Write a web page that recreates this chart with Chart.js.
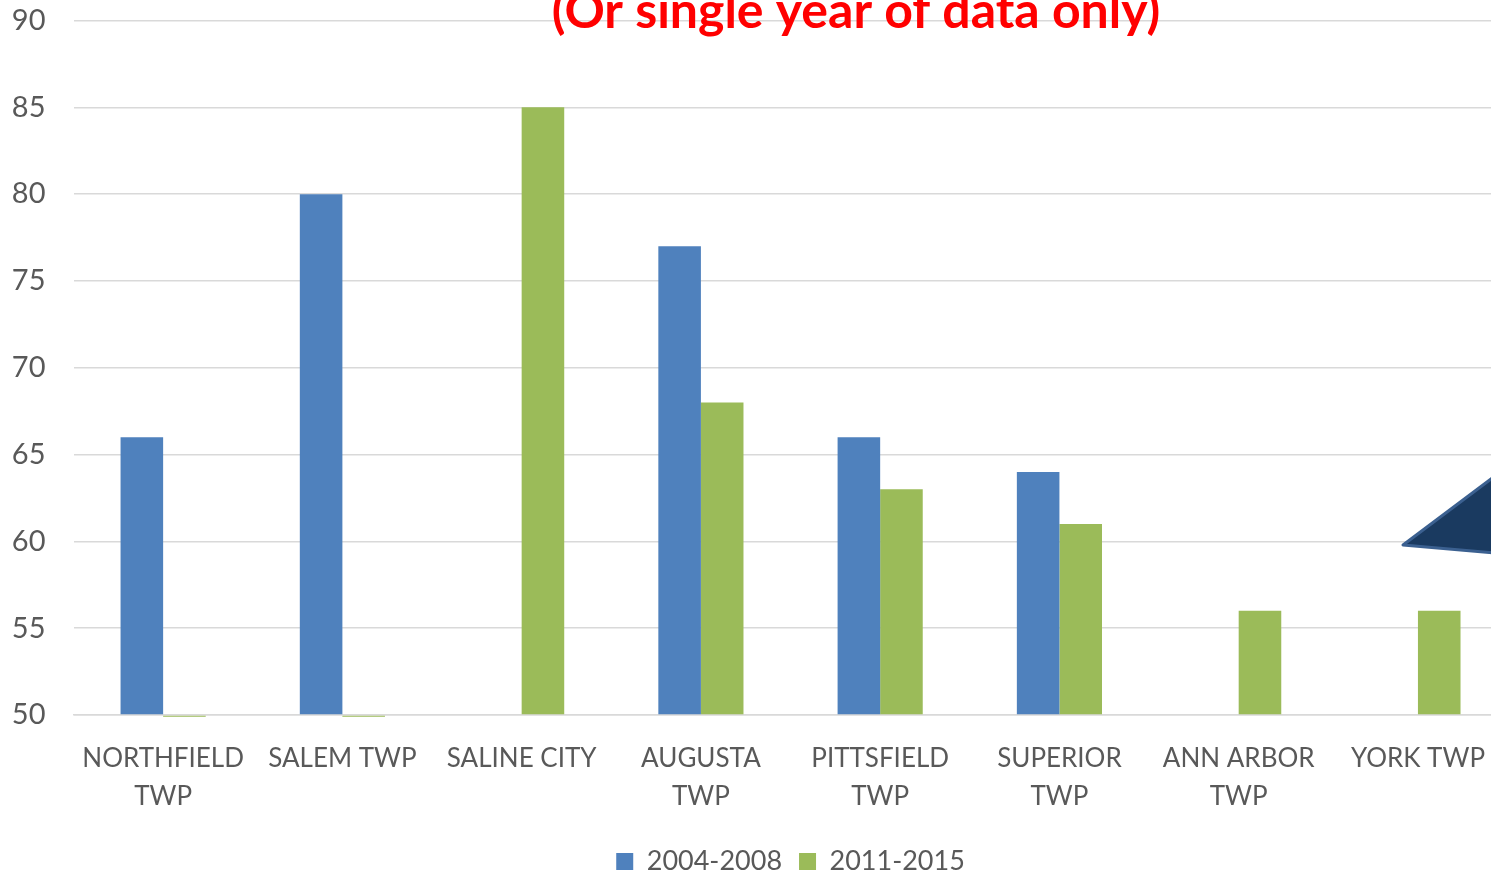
<!DOCTYPE html>
<html><head><meta charset="utf-8">
<script src="https://cdn.jsdelivr.net/npm/chart.js@4/dist/chart.umd.min.js"></script>
<style>
html,body{margin:0;padding:0;background:#fff;overflow:hidden;}
#wrap{width:1510px;height:873px;position:relative;}
</style></head><body>
<div id="wrap"><canvas id="c" width="1510" height="873"></canvas></div>
<script>
const categories = [["NORTHFIELD","TWP"],"SALEM TWP","SALINE CITY",["AUGUSTA","TWP"],["PITTSFIELD","TWP"],["SUPERIOR","TWP"],["ANN ARBOR","TWP"],"YORK TWP"];
const series1Name = "2004-2008";
const series2Name = "2011-2015";
const series1 = [66, 80, null, 77, 66, 64, null, null];
const series2 = [49.9, 49.9, 85, 68, 63, 61, 56, 56];
const yMin = 50, yMax = 90, yStep = 5;
const titleText = "(Or single year of data only)";

const FONT = "Lato";
const overlay = {
  id:'overlay',
  afterDraw(chart){
    const ctx = chart.ctx;
    ctx.save();
    ctx.fillStyle = '#ff0000';
    ctx.font = 'bold 50px ' + FONT;
    ctx.textAlign = 'center';
    ctx.textBaseline = 'alphabetic';
    ctx.fillText(titleText, 856, 28);
    // callout arrow
    ctx.beginPath();
    ctx.moveTo(1403,545);
    ctx.lineTo(1495,476);
    ctx.lineTo(1495,553);
    ctx.closePath();
    ctx.fillStyle = '#1a3a60';
    ctx.fill();
    ctx.lineWidth = 3;
    ctx.lineJoin = 'round';
    ctx.strokeStyle = '#3b6090';
    ctx.stroke();
    ctx.restore();
  }
};

new Chart(document.getElementById('c'), {
  type:'bar',
  data:{
    labels: categories,
    datasets:[
      {label:series1Name, data:series1, backgroundColor:'#4f81bd', base:yMin, clip:false},
      {label:series2Name, data:series2, backgroundColor:'#9bbb59', base:yMin, clip:false}
    ]
  },
  options:{
    responsive:false, animation:false,
    layout:{padding:{top:20.5,bottom:-12,left:0,right:0}},
    categoryPercentage:0.475, barPercentage:1,
    plugins:{
      legend:{position:'bottom', fullSize:false, labels:{font:{family:FONT,size:27}, color:'#595959', boxWidth:17, boxHeight:17, padding:17}},
      tooltip:{enabled:false}
    },
    scales:{
      x:{
        grid:{display:false, drawTicks:false},
        border:{color:'#d9d9d9', width:1.5},
        ticks:{font:{family:FONT,size:26,lineHeight:1.46}, color:'#595959', padding:25, maxRotation:0, autoSkip:false},
        afterFit(s){ s.height = 116; }
      },
      y:{
        min:yMin, max:yMax,
        ticks:{stepSize:yStep, font:{family:FONT,size:29}, color:'#595959', padding:28},
        grid:{color:'#d9d9d9', lineWidth:1.5, drawTicks:false},
        border:{display:false},
        afterFit(s){ s.width = 73.5; s.paddingTop = 0; s.paddingBottom = 0; }
      }
    }
  },
  plugins:[overlay]
});
</script>
</body></html>
